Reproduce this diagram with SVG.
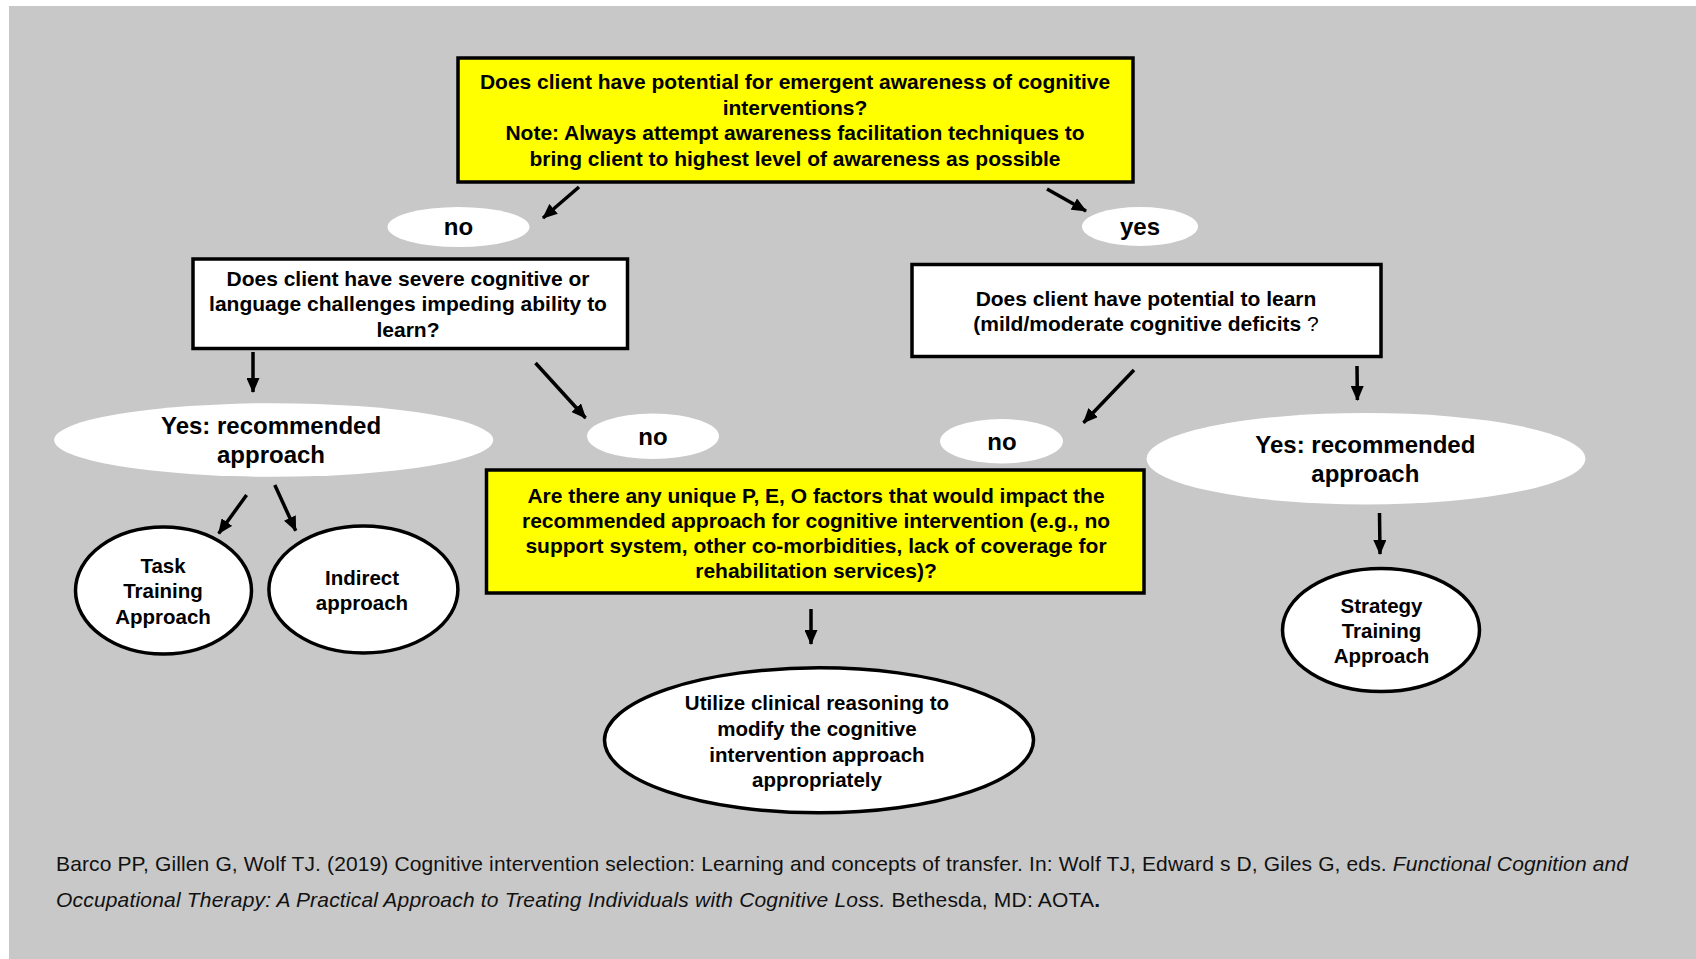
<svg xmlns="http://www.w3.org/2000/svg" width="1696" height="959" viewBox="0 0 1696 959">
<style>
.bx{font-family:"Liberation Sans",Arial,sans-serif;font-weight:bold;font-size:21px;fill:#000;text-anchor:middle}
.ci{font-family:"Liberation Sans",Arial,sans-serif;font-weight:bold;font-size:20.5px;fill:#000;text-anchor:middle}
.lb{font-family:"Liberation Sans",Arial,sans-serif;font-weight:bold;font-size:24px;fill:#000;text-anchor:middle}
.cit{font-family:"Liberation Sans",Arial,sans-serif;font-size:21px;fill:#111}
.yel{fill:#FFFF00;stroke:#000;stroke-width:3.5}
.wht{fill:#FFFFFF;stroke:#000;stroke-width:3.5}
.lab{fill:#FFFFFF;stroke:none}
.arr{stroke:#000;stroke-width:3.5;fill:none;marker-end:url(#ah)}
</style>
<defs>
<marker id="ah" viewBox="0 0 15 13" refX="14" refY="6.5" markerWidth="15" markerHeight="13" markerUnits="userSpaceOnUse" orient="auto">
<path d="M0,0 L15,6.5 L0,13 z" fill="#000"/>
</marker>
</defs>
<rect x="0" y="0" width="1696" height="959" fill="#FFFFFF"/>
<rect x="9" y="6" width="1687" height="953" fill="#C8C8C8"/>

<g id="connectors">
<line class="arr" x1="579" y1="187" x2="543" y2="218"/>
<line class="arr" x1="1047" y1="189" x2="1086" y2="211"/>
<line class="arr" x1="253" y1="352" x2="253" y2="392"/>
<line class="arr" x1="535.5" y1="363" x2="585.6" y2="418"/>
<line class="arr" x1="246.6" y1="495" x2="218.7" y2="533.5"/>
<line class="arr" x1="274.8" y1="485" x2="295.7" y2="530.7"/>
<line class="arr" x1="811" y1="609" x2="811" y2="644"/>
<line class="arr" x1="1134" y1="370" x2="1083.5" y2="422.7"/>
<line class="arr" x1="1357" y1="366" x2="1357.4" y2="400"/>
<line class="arr" x1="1379.5" y1="513" x2="1380" y2="554"/>
</g>

<g id="top-question">
<rect class="yel" x="458" y="58" width="675" height="124"/>
<text class="bx" x="795" y="89">Does client have potential for emergent awareness of cognitive</text>
<text class="bx" x="795" y="115">interventions?</text>
<text class="bx" x="795" y="140">Note: Always attempt awareness facilitation techniques to</text>
<text class="bx" x="795" y="166">bring client to highest level of awareness as possible</text>
</g>

<g id="label-no-1">
<ellipse class="lab" cx="458.5" cy="227" rx="71" ry="20"/>
<text class="lb" x="458.5" y="235">no</text>
</g>

<g id="label-yes-1">
<ellipse class="lab" cx="1140" cy="226.5" rx="58" ry="19.5"/>
<text class="lb" x="1140" y="235">yes</text>
</g>

<g id="severe-question">
<rect class="wht" x="193" y="259" width="434.5" height="89.5"/>
<text class="bx" x="408" y="285.5">Does client have severe cognitive or</text>
<text class="bx" x="408" y="311">language challenges impeding ability to</text>
<text class="bx" x="408" y="336.5">learn?</text>
</g>

<g id="learn-question">
<rect class="wht" x="912" y="264.5" width="469" height="92"/>
<text class="bx" x="1146" y="305.5">Does client have potential to learn</text>
<text class="bx" x="1146" y="331">(mild/moderate cognitive deficits<tspan font-weight="normal"> ?</tspan></text>
</g>

<g id="yes-left">
<ellipse class="lab" cx="273.7" cy="440" rx="219.5" ry="36.8"/>
<text class="lb" x="271" y="434.3">Yes: recommended</text>
<text class="lb" x="271" y="463.3">approach</text>
</g>

<g id="label-no-2">
<ellipse class="lab" cx="653" cy="436.3" rx="66" ry="22.8"/>
<text class="lb" x="653" y="445">no</text>
</g>

<g id="label-no-3">
<ellipse class="lab" cx="1001.5" cy="441.3" rx="61.5" ry="22.2"/>
<text class="lb" x="1002" y="450">no</text>
</g>

<g id="yes-right">
<ellipse class="lab" cx="1366" cy="458.7" rx="219.4" ry="45.8"/>
<text class="lb" x="1365.3" y="453.3">Yes: recommended</text>
<text class="lb" x="1365.3" y="481.7">approach</text>
</g>

<g id="task-training">
<ellipse class="wht" cx="163.5" cy="590.5" rx="88" ry="63.5"/>
<text class="ci" x="163" y="572.7">Task</text>
<text class="ci" x="163" y="598.3">Training</text>
<text class="ci" x="163" y="624">Approach</text>
</g>

<g id="indirect">
<ellipse class="wht" cx="363.4" cy="589.5" rx="94.5" ry="63.5"/>
<text class="ci" x="362" y="585">Indirect</text>
<text class="ci" x="362" y="610">approach</text>
</g>

<g id="peo-question">
<rect class="yel" x="486.5" y="470" width="657.5" height="123"/>
<text class="bx" x="816" y="503">Are there any unique P, E, O factors that would impact the</text>
<text class="bx" x="816" y="527.7">recommended approach for cognitive intervention (e.g., no</text>
<text class="bx" x="816" y="553">support system, other co-morbidities, lack of coverage for</text>
<text class="bx" x="816" y="577.7">rehabilitation services)?</text>
</g>

<g id="strategy-training">
<ellipse class="wht" cx="1381" cy="630" rx="98.5" ry="61.5"/>
<text class="ci" x="1381.5" y="612.7">Strategy</text>
<text class="ci" x="1381.5" y="638.3">Training</text>
<text class="ci" x="1381.5" y="663.3">Approach</text>
</g>

<g id="clinical-reasoning">
<ellipse class="wht" cx="819" cy="740.3" rx="214.5" ry="72.5"/>
<text class="ci" x="817" y="710">Utilize clinical reasoning to</text>
<text class="ci" x="817" y="736">modify the cognitive</text>
<text class="ci" x="817" y="761.5">intervention approach</text>
<text class="ci" x="817" y="787">appropriately</text>
</g>

<g id="citation">
<text class="cit" x="56" y="870.7" textLength="1572" lengthAdjust="spacing">Barco PP, Gillen G, Wolf TJ. (2019) Cognitive intervention selection: Learning and concepts of transfer. In: Wolf TJ, Edward s D, Giles G, eds. <tspan font-style="italic">Functional Cognition and</tspan></text>
<text class="cit" x="56" y="906.7" textLength="1044" lengthAdjust="spacing"><tspan font-style="italic">Occupational Therapy: A Practical Approach to Treating Individuals with Cognitive Loss.</tspan> Bethesda, MD: AOTA<tspan font-weight="bold">.</tspan></text>
</g>
</svg>
